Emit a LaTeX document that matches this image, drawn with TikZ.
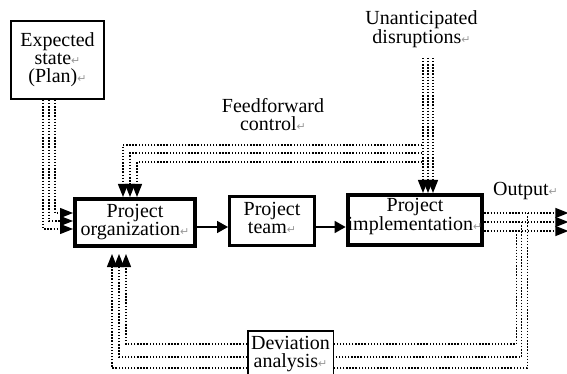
\documentclass[tikz,border=0pt]{standalone}
\usepackage{fontspec}
\setmainfont{Liberation Serif}
\newfontfamily\symfont{DejaVu Sans}
\usetikzlibrary{arrows.meta}

\newcommand{\retmark}{{\symfont\fontsize{11}{11}\selectfont\textcolor{gray!80}{↵}}}

\begin{document}
\begin{tikzpicture}[x=1pt, y=-1pt,
  every node/.style={font=\fontsize{20}{18}\selectfont, align=center, inner sep=0pt},
  box/.style={draw, fill=white},
  ctrl/.style={line width=1.3pt, dash pattern=on 1.4pt off 1.7pt},
  tip/.style={-{Triangle[length=13pt,width=10pt]}},
  flow/.style={line width=1.6pt, -{Triangle[length=11pt,width=12pt]}}]
  \useasboundingbox (0,0) rectangle (567,374);

  \node[box, line width=2pt, minimum width=93pt, minimum height=78pt] (plan) at (57.5,60) {Expected\\state\retmark\\(Plan)\retmark};
  \node[box, line width=4pt, minimum width=120pt, minimum height=47pt] (org) at (135,222.5) {Project\\organization\retmark};
  \node[box, line width=3pt, minimum width=85pt, minimum height=49pt, text depth=7pt] (team) at (272,221) {Project\\team\retmark};
  \node[box, line width=4pt, minimum width=132pt, minimum height=50pt, text depth=11pt] (impl) at (415,220) {Project\\implementation\retmark};
  \node[box, line width=1.5pt, minimum width=85.5pt, minimum height=46pt] (dev) at (290.5,354) {Deviation\\analysis\retmark};

  \node (disrupt) at (421.5,29.3) {Unanticipated\\disruptions\retmark};
  \node (ffwd) at (273,114.7) {Feedforward\\control\retmark};
  \node (output) at (525.5,191) {Output\retmark};

  % plan
  \draw[ctrl,tip] ([shift={(-2.5,0)}]plan.south) |- ([shift={(0,-9.5)}]org.west);
  \draw[ctrl,tip] ([shift={(-8.5,0)}]plan.south) |- ([shift={(0,-1.5)}]org.west);
  \draw[ctrl,tip] ([shift={(-14.5,0)}]plan.south) |- ([shift={(0,6.5)}]org.west);

  % disruptions
  \draw[ctrl,tip] ([shift={(8,-135)}]impl.north) -- ([shift={(8,0)}]impl.north);
  \draw[ctrl,tip] ([shift={(13,-135)}]impl.north) -- ([shift={(13,0)}]impl.north);
  \draw[ctrl,tip] ([shift={(18,-135)}]impl.north) -- ([shift={(18,0)}]impl.north);

  % feedforward
  \draw[ctrl,tip] ([shift={(7,-48)}]impl.north) -| ([shift={(-12,0)}]org.north);
  \draw[ctrl,tip] ([shift={(7,-40)}]impl.north) -| ([shift={(-5,0)}]org.north);
  \draw[ctrl,tip] ([shift={(7,-31)}]impl.north) -| ([shift={(2,0)}]org.north);

  % output
  \draw[ctrl,tip] ([shift={(0,-7)}]impl.east) -- ([shift={(84,-7)}]impl.east);
  \draw[ctrl,tip] ([shift={(0,2)}]impl.east) -- ([shift={(84,2)}]impl.east);
  \draw[ctrl,tip] ([shift={(0,11)}]impl.east) -- ([shift={(84,11)}]impl.east);

  % feedback
  \draw[ctrl] ([shift={(32,11)}]impl.east) |- ([shift={(0,-10)}]dev.east);
  \draw[ctrl] ([shift={(37,2)}]impl.east) |- ([shift={(0,3)}]dev.east);
  \draw[ctrl] ([shift={(43,-7)}]impl.east) |- ([shift={(0,14)}]dev.east);
  \draw[ctrl,tip] ([shift={(0,-10)}]dev.west) -| ([shift={(-9,6)}]org.south);
  \draw[ctrl,tip] ([shift={(0,3)}]dev.west) -| ([shift={(-16,6)}]org.south);
  \draw[ctrl,tip] ([shift={(0,14)}]dev.west) -| ([shift={(-23,6)}]org.south);

  \draw[flow] ([shift={(0,4.5)}]org.east) -- ([shift={(0,6)}]team.west);
  \draw[flow] ([shift={(0,6)}]team.east) -- ([shift={(0,7)}]impl.west);
\end{tikzpicture}
\end{document}
